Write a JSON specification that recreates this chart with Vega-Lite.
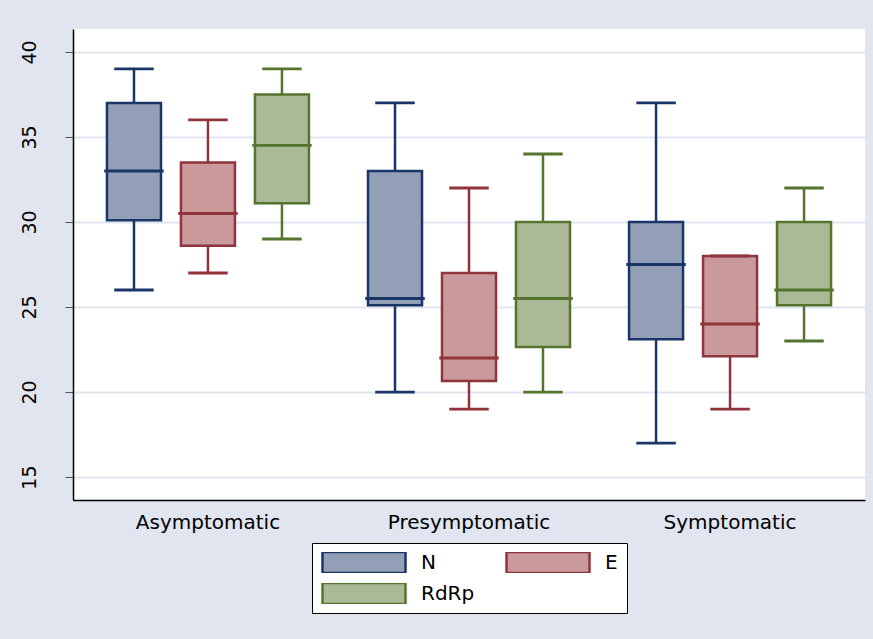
{
  "$schema": "https://vega.github.io/schema/vega-lite/v6.json",
  "width": 792,
  "height": 471,
  "autosize": "none",
  "padding": {"left": 73, "top": 29, "right": 8, "bottom": 139},
  "background": "#e1e5f0",
  "config": {
    "view": {"fill": "white", "stroke": null},
    "font": "DejaVu Sans"
  },
  "data": {
    "values": [
      {"cat": "Asymptomatic", "gene": "N", "lo": 26, "q1": 30.1, "med": 33, "q3": 37, "hi": 39},
      {"cat": "Asymptomatic", "gene": "E", "lo": 27, "q1": 28.6, "med": 30.5, "q3": 33.5, "hi": 36},
      {"cat": "Asymptomatic", "gene": "RdRp", "lo": 29, "q1": 31.1, "med": 34.5, "q3": 37.5, "hi": 39},
      {"cat": "Presymptomatic", "gene": "N", "lo": 20, "q1": 25.1, "med": 25.5, "q3": 33, "hi": 37},
      {"cat": "Presymptomatic", "gene": "E", "lo": 19, "q1": 20.65, "med": 22, "q3": 27, "hi": 32},
      {"cat": "Presymptomatic", "gene": "RdRp", "lo": 20, "q1": 22.65, "med": 25.5, "q3": 30, "hi": 34},
      {"cat": "Symptomatic", "gene": "N", "lo": 17, "q1": 23.1, "med": 27.5, "q3": 30, "hi": 37},
      {"cat": "Symptomatic", "gene": "E", "lo": 19, "q1": 22.1, "med": 24, "q3": 28, "hi": 28},
      {"cat": "Symptomatic", "gene": "RdRp", "lo": 23, "q1": 25.1, "med": 26, "q3": 30, "hi": 32}
    ]
  },
  "encoding": {
    "x": {
      "field": "cat", "type": "nominal", "sort": null,
      "scale": {"paddingInner": 0, "paddingOuter": 0.017},
      "axis": {"title": null, "labelAngle": 0, "ticks": false, "domainColor": "black", "domainWidth": 1.5, "labelFontSize": 20, "labelColor": "black", "labelPadding": 12, "grid": false}
    },
    "xOffset": {
      "field": "gene", "type": "nominal",
      "scale": {"domain": ["N", "E", "RdRp"], "paddingInner": 0.27, "paddingOuter": 0.399}
    },
    "stroke": {
      "field": "gene", "type": "nominal",
      "scale": {"domain": ["N", "RdRp", "E"], "range": ["#1a3668", "#55752f", "#90353b"]},
      "legend": {
        "title": null, "orient": "none", "legendX": 239, "legendY": 514,
        "columns": 2, "columnPadding": 30, "rowPadding": 10,
        "symbolType": "M-1,-0.253H1V0.253H-1Z", "symbolSize": 6889, "symbolStrokeWidth": 2.5,
        "clipHeight": 21, "labelFontSize": 20, "labelColor": "black", "labelOffset": 14,
        "strokeColor": "black", "fillColor": "white", "padding": 9
      }
    }
  },
  "layer": [
    {
      "mark": {"type": "rule", "strokeWidth": 2.5},
      "encoding": {
        "y": {
          "field": "lo", "type": "quantitative",
          "scale": {"domain": [13.65, 41.35], "nice": false, "zero": false},
          "axis": {"title": null, "values": [15, 20, 25, 30, 35, 40], "labelAngle": -90, "labelFontSize": 19, "labelColor": "black", "labelPadding": 26, "tickSize": 8, "tickColor": "#555555", "domainColor": "black", "domainWidth": 1.5, "gridColor": "#e1e5f0", "gridWidth": 2}
        },
        "y2": {"field": "q1"}
      }
    },
    {
      "mark": {"type": "rule", "strokeWidth": 2.5},
      "encoding": {
        "y": {"field": "q3", "type": "quantitative"},
        "y2": {"field": "hi"}
      }
    },
    {
      "mark": {"type": "bar", "strokeWidth": 2.5},
      "encoding": {
        "y": {"field": "q1", "type": "quantitative"},
        "y2": {"field": "q3"},
        "fill": {
          "field": "gene", "type": "nominal",
          "scale": {"domain": ["N", "RdRp", "E"], "range": ["#939fb6", "#abb996", "#c9999c"]},
          "legend": {
            "title": null, "orient": "none", "legendX": 239, "legendY": 514,
            "columns": 2, "columnPadding": 30, "rowPadding": 10,
            "symbolType": "M-1,-0.253H1V0.253H-1Z", "symbolSize": 6889, "symbolStrokeWidth": 2.5,
            "clipHeight": 21, "labelFontSize": 20, "labelColor": "black", "labelOffset": 14,
            "strokeColor": "black", "fillColor": "white", "padding": 9
          }
        }
      }
    },
    {
      "mark": {"type": "tick", "thickness": 0.3, "strokeWidth": 2.5, "size": 57, "fillOpacity": 0, "opacity": 1},
      "encoding": {
        "y": {"field": "med", "type": "quantitative"}
      }
    },
    {
      "mark": {"type": "tick", "thickness": 0.3, "strokeWidth": 2.5, "size": 37, "fillOpacity": 0, "opacity": 1},
      "encoding": {
        "y": {"field": "lo", "type": "quantitative"}
      }
    },
    {
      "mark": {"type": "tick", "thickness": 0.3, "strokeWidth": 2.5, "size": 37, "fillOpacity": 0, "opacity": 1},
      "encoding": {
        "y": {"field": "hi", "type": "quantitative"}
      }
    }
  ]
}
